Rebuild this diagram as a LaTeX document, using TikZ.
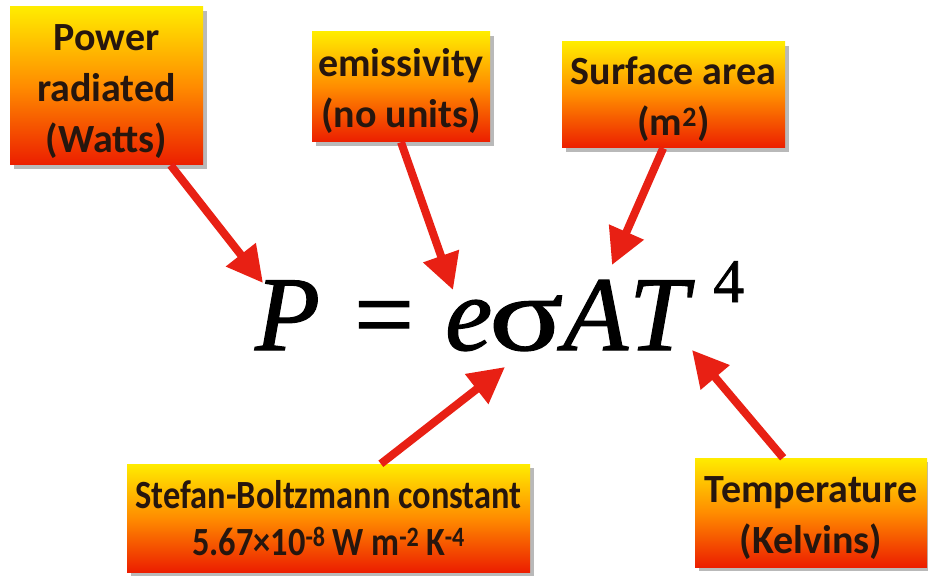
\documentclass[tikz,border=0pt]{standalone}
\usepackage{fontspec}
\setmainfont{Carlito}
\newfontfamily\condfont[FakeStretch=0.86]{Carlito}
\newfontfamily\eqfont[FakeBold=1.2]{Liberation Serif}
\usetikzlibrary{arrows.meta,shadows}
\definecolor{boxyellow}{RGB}{255,236,0}
\definecolor{boxorange}{RGB}{255,140,0}
\definecolor{boxred}{RGB}{236,30,0}
\definecolor{arrred}{RGB}{232,32,20}
\definecolor{txt}{RGB}{38,22,14}
\newcommand{\gl}[2]{\makebox[#1][l]{#2}}
\newcommand{\bl}[1]{\raisebox{-5pt}[\height][\depth]{\begin{tabular}{@{}c@{}}#1\end{tabular}}}
\tikzset{
  labelbox/.style={rectangle, top color=boxyellow, bottom color=boxred, middle color=boxorange,
    drop shadow={opacity=0.55, shadow xshift=4pt, shadow yshift=-4pt},
    text=txt, font=\fontsize{40}{51}\selectfont\bfseries, inner sep=0pt},
  arr/.style={draw=arrred, line width=8pt, -{Triangle[length=36pt,width=36pt]}},
  eqtext/.style={anchor=base west, inner sep=0pt, text=black},
}
\begin{document}
\begin{tikzpicture}[x=1pt,y=-1pt]
\useasboundingbox[fill=white] (0,0) rectangle (928,577);

\node[labelbox, minimum width=193pt, minimum height=158pt] (pw) at (106.5,86) {\bl{Power\\radiated\\(Watts)}};
\node[labelbox, minimum width=178pt, minimum height=110pt] (em) at (401,87) {\bl{emissivity\\(no units)}};
\node[labelbox, minimum width=223pt, minimum height=106pt] (sa) at (673.5,95) {\bl{Surface area\\(m\textsuperscript{2})}};
\node[labelbox, minimum width=403pt, minimum height=108pt, font=\condfont\fontsize{40}{47}\selectfont\bfseries] (sb) at (328.5,518) {\bl{Stefan-Boltzmann constant\\5.67×10\textsuperscript{-8}\,W m\textsuperscript{-2}\,K\textsuperscript{-4}}};
\node[labelbox, minimum width=232pt, minimum height=109pt] (tp) at (811,512.5) {\bl{Temperature\\(Kelvins)}};

\node[eqtext, font=\eqfont\fontsize{106}{106}\selectfont\itshape] (eq) at (255,350)
  {\gl{99pt}{P}\gl{91pt}{\upshape=}\gl{44pt}{e}\gl{74pt}{\upshape\scalebox{1.3}[1]{σ}}\gl{66pt}{A}T};
\node[eqtext, font=\eqfont\fontsize{62}{62}\selectfont] (ex) at (713,302) {4};

\coordinate (t1) at (263,283);
\coordinate (t2) at (453,290);
\coordinate (t3) at (612,265);
\coordinate (t4) at (505,367);
\coordinate (t5) at (692,350);

\draw[arr] (pw.-51) -- (t1);
\draw[arr] (em.south) -- (t2);
\draw[arr] (sa.-101) -- (t3);
\draw[arr] (sb.46) -- (t4);
\draw[arr] (tp.117) -- (t5);
\end{tikzpicture}
\end{document}
